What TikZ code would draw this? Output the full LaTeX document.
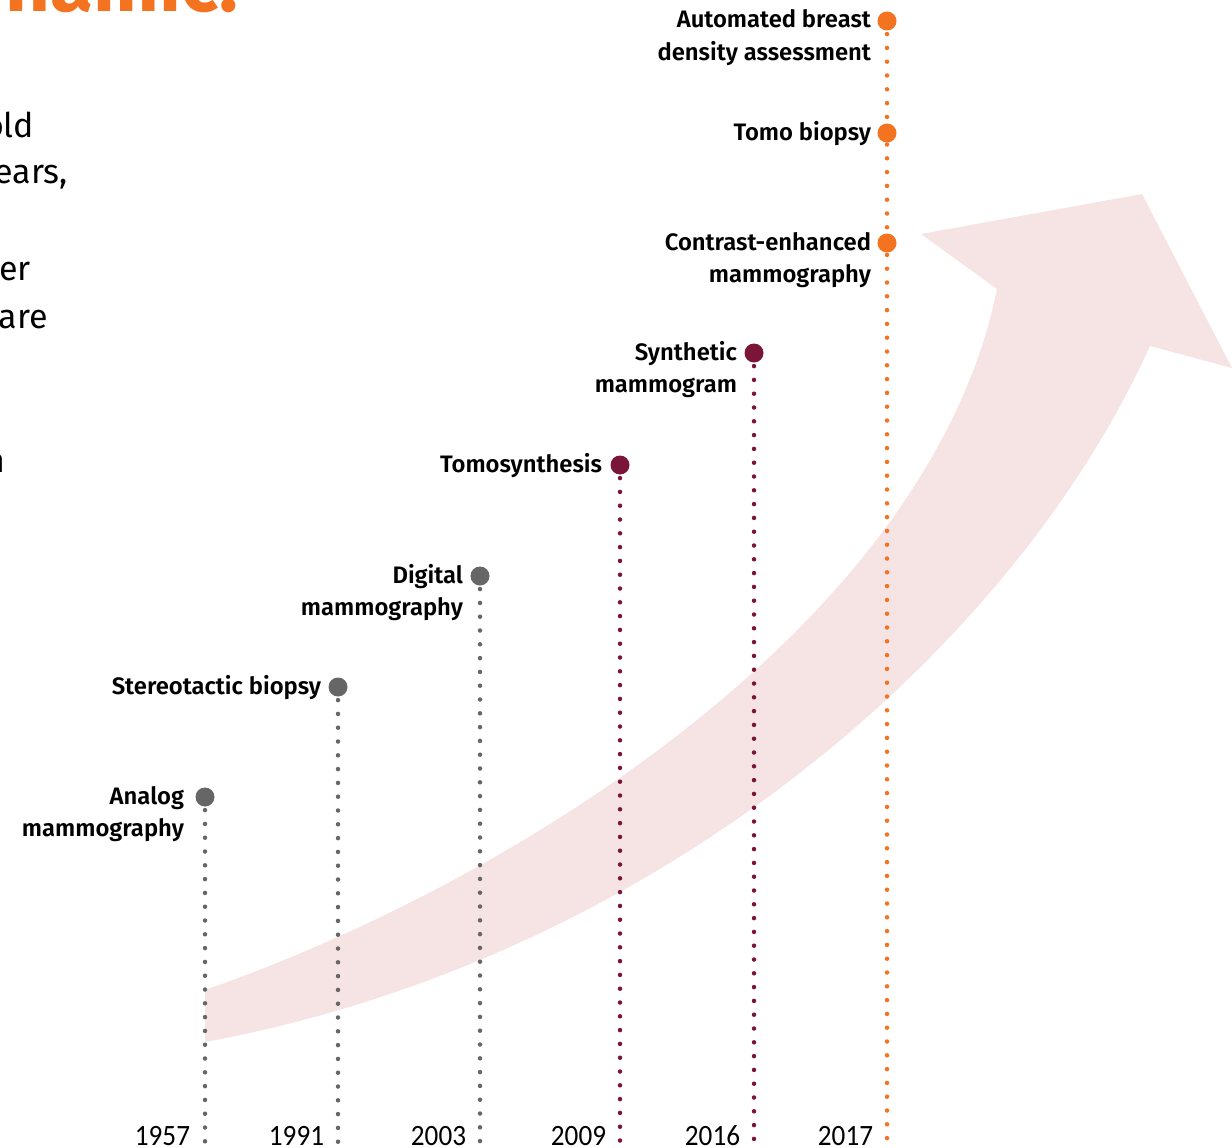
\documentclass[tikz,border=0pt]{standalone}
\usepackage{graphicx}
\usepackage{fontspec}
\setmainfont{Fira Sans}
\newfontfamily\labelfont{Fira Sans SemiBold}
\newfontfamily\yearfont{Carlito}
\usetikzlibrary{positioning}

\definecolor{siorange}{RGB}{243,115,33}
\definecolor{simaroon}{RGB}{122,20,56}
\definecolor{sigray}{RGB}{102,102,102}
\definecolor{sipink}{RGB}{245,228,227}

\newcommand{\yearbox}[1]{\scalebox{.92}[1]{#1}}
\newcommand{\twolines}[2]{\begin{tabular}[t]{@{}r@{}}#1\\#2\end{tabular}}

\begin{document}
\begin{tikzpicture}[x=1pt,y=-1pt,
	every node/.style = {inner sep=0pt, outer sep=0pt},
	milestone/.style = {circle, fill=#1, minimum size=19pt},
	timeline/.style = {draw=#1, line width=4.5pt, line cap=round,
	  dash pattern=on 0pt off 13.8pt, dash phase=10.2pt},
	event/.style = {anchor=base east, font=\labelfont\fontsize{23.8}{32.7}\selectfont},
	year/.style = {anchor=base east, font=\yearfont\fontsize{29.5}{30}\selectfont},
	body/.style = {anchor=base east, font=\fontsize{34}{48}\selectfont}
	]
 \useasboundingbox (0,0) rectangle (1232,1148);
 \clip (0,0) rectangle (1232,1148);

 % growth arrow
 \fill[sipink] (205,1042) .. controls (650,960) and (1010,655) .. (1150,346)
   -- (1232,368) -- (1142,194) -- (921,234) -- (997,289)
   .. controls (930,620) and (520,880) .. (205,990) -- cycle;

 % cut-off page text
 \node[font=\bfseries\fontsize{78}{80}\selectfont, text=siorange, anchor=base east] (title) at (238,12) {ynamic.};
 \node[body] (body1) at (34,137) {old};
 \node[body] (body2) at (68,183) {ears,};
 \node[body] (body3) at (31,280) {er};
 \node[body] (body4) at (48,328) {are};
 \node[body] (body5) at (5,472) {n};

 \node[milestone=sigray] (d1957) at (205,797) {};
 \node[milestone=sigray] (d1991) at (338,687) {};
 \node[milestone=sigray] (d2003) at (480,576) {};
 \node[milestone=simaroon] (d2009) at (620,465) {};
 \node[milestone=simaroon] (d2016) at (754,353) {};
 \node[milestone=siorange] (d2017a) at (887,243) {};
 \node[milestone=siorange] (d2017b) at (887,133) {};
 \node[milestone=siorange] (d2017c) at (887,21) {};

 \node[event] (t1957) at (184,804) {\twolines{Analog}{mammography}};
 \node[event] (t1991) at (321,694) {Stereotactic biopsy};
 \node[event] (t2003) at (463,583) {\twolines{Digital}{mammography}};
 \node[event] (t2009) at (602,472) {Tomosynthesis};
 \node[event] (t2016) at (737,360) {\twolines{Synthetic}{mammogram}};
 \node[event] (t2017a) at (871,250) {\twolines{Contrast-enhanced}{mammography}};
 \node[event] (t2017b) at (871,140) {Tomo biopsy};
 \node[event] (t2017c) at (871,28) {\twolines{Automated breast}{density assessment}};

 \node[year] (y1957) at (190,1145) {\yearbox{1957}};
 \node[year] (y1991) at (324,1145) {\yearbox{1991}};
 \node[year] (y2003) at (466,1145) {\yearbox{2003}};
 \node[year] (y2009) at (606,1145) {\yearbox{2009}};
 \node[year] (y2016) at (740,1145) {\yearbox{2016}};
 \node[year] (y2017) at (873,1145) {\yearbox{2017}};

 \coordinate (b1957) at (205,1165);
 \coordinate (b1991) at (338,1165);
 \coordinate (b2003) at (480,1165);
 \coordinate (b2009) at (620,1165);
 \coordinate (b2016) at (754,1165);
 \coordinate (b2017) at (887,1165);

 \draw[timeline=sigray] (d1957.south) -- (b1957);
 \draw[timeline=sigray] (d1991.south) -- (b1991);
 \draw[timeline=sigray] (d2003.south) -- (b2003);
 \draw[timeline=simaroon] (d2009.south) -- (b2009);
 \draw[timeline=simaroon] (d2016.south) -- (b2016);
 \draw[timeline=siorange] (d2017c.south) -- (b2017);
\end{tikzpicture}
\end{document}
